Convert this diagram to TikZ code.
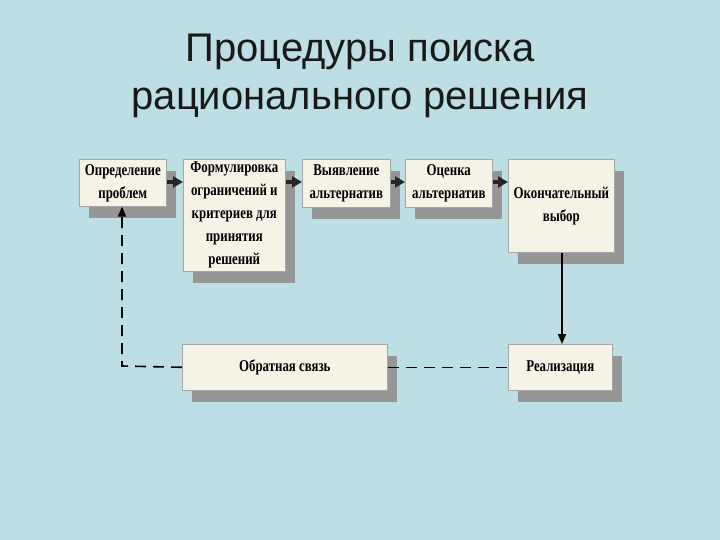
\documentclass[tikz,border=0pt]{standalone}
\usepackage{fontspec}
\setmainfont{Liberation Serif}
\newfontfamily\titlefont{Liberation Sans}
\newfontfamily\boxfont[FakeStretch=0.78]{Liberation Serif Bold}
\usetikzlibrary{arrows.meta}
\definecolor{bg}{RGB}{188,222,228}
\definecolor{boxfill}{RGB}{244,243,230}
\definecolor{shadowc}{RGB}{150,150,150}
\tikzset{
  stepbox/.style={draw=gray!70, fill=boxfill, line width=0.6pt, inner sep=0pt, align=center,
    font=\boxfont\fontsize{16.5}{23}\selectfont, anchor=north west},
  boxshadow/.style={fill=shadowc, draw=none},
  titletext/.style={font=\titlefont\fontsize{40}{50}\selectfont, text=black!90, anchor=base},
  flow/.style={-{Triangle[length=10pt,width=11pt]}, line width=3.4pt, draw=black!85},
  thinflow/.style={-{Triangle[length=10pt,width=8pt]}, line width=1.5pt},
  fb/.style={dash pattern=on 11pt off 7pt, line width=1.6pt},
}
\newcommand{\mybox}[6]{%
  \fill[boxshadow] (#2+10,#3+12) rectangle (#2+10+#4,#3+12+#5);
  \node[stepbox, minimum width=#4pt, minimum height=#5pt] (#1) at (#2,#3) {#6};
}
\begin{document}
\begin{tikzpicture}[x=1pt,y=-1pt]
\fill[bg] (0,0) rectangle (720,540);
\useasboundingbox (0,0) rectangle (720,540);
\node[titletext] (title1) at (360,62) {Процедуры поиска};
\node[titletext] (title2) at (360,110) {рационального решения};

\mybox{b1}{79}{159}{87}{47}{Определение\\проблем}
\mybox{b2}{183}{159}{102}{112}{Формулировка\\ограничений и\\критериев для\\принятия\\решений}
\mybox{b3}{302}{159}{88}{48}{Выявление\\альтернатив}
\mybox{b4}{405}{159}{87}{48}{Оценка\\альтернатив}
\mybox{b5}{508}{159}{106}{93}{Окончательный\\выбор}
\mybox{b6}{182}{344}{205}{46}{Обратная связь}
\mybox{b7}{508}{344}{104}{46}{Реализация}

\draw[flow] (b1.east |- 0,182) -- (b2.west |- 0,182);
\draw[flow] (b2.east |- 0,182) -- (b3.west |- 0,182);
\draw[flow] (b3.east |- 0,182) -- (b4.west |- 0,182);
\draw[flow] (b4.east |- 0,182) -- (b5.west |- 0,182);
\draw[thinflow] (b5.south -| 562,0) -- (b7.north -| 562,0);
\draw[fb] (b6.east) -- (b7.west);
\coordinate (corner) at (122,366);
\draw[fb, -{Triangle[length=10pt,width=8pt]}] (b6.west) -- (corner) -- (b1.south -| corner);
\end{tikzpicture}
\end{document}
